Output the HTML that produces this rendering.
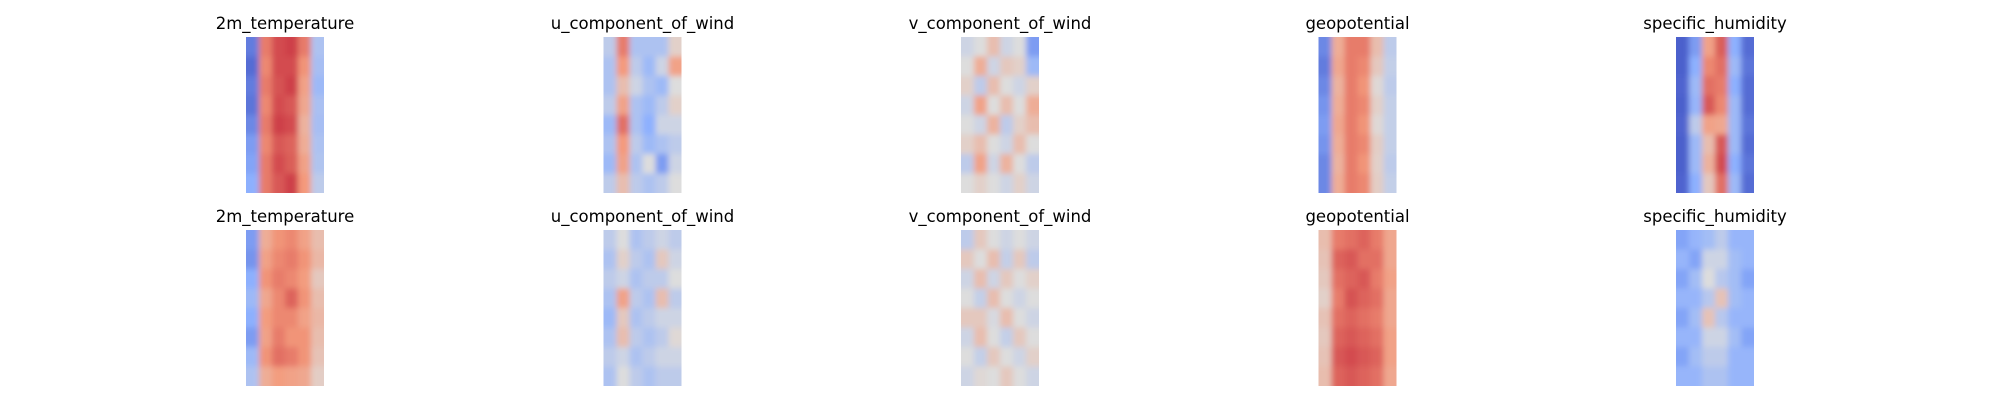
<!DOCTYPE html>
<html><head><meta charset="utf-8"><style>
body{margin:0;background:#fff;}
svg{display:block;}
text{font-family:"DejaVu Sans","Liberation Sans",sans-serif;font-size:16.5px;fill:#000;}
</style></head><body>
<svg id="chart" width="2000" height="400" viewBox="0 0 2000 400" xmlns="http://www.w3.org/2000/svg">
<defs><filter id="blur" x="-10%" y="-10%" width="120%" height="120%"><feGaussianBlur stdDeviation="3"/></filter></defs>
</svg>
<script>
const titles = ["2m_temperature","u_component_of_wind","v_component_of_wind","geopotential","specific_humidity"];
const gridTop = [
 [[0.12,0.8,0.88,0.9,0.8,0.35],[0.08,0.78,0.88,0.88,0.76,0.33],[0.12,0.8,0.87,0.9,0.72,0.3],[0.1,0.78,0.88,0.86,0.7,0.34],[0.15,0.8,0.9,0.88,0.66,0.33],[0.2,0.78,0.86,0.84,0.68,0.35],[0.22,0.8,0.88,0.85,0.72,0.36],[0.25,0.8,0.86,0.9,0.75,0.4]],
 [[0.4,0.8,0.35,0.35,0.35,0.55],[0.35,0.75,0.4,0.3,0.45,0.72],[0.35,0.62,0.45,0.35,0.3,0.5],[0.4,0.72,0.35,0.3,0.4,0.55],[0.3,0.82,0.35,0.25,0.45,0.45],[0.35,0.75,0.4,0.3,0.35,0.4],[0.3,0.72,0.35,0.5,0.2,0.45],[0.4,0.62,0.4,0.35,0.4,0.5]],
 [[0.45,0.5,0.62,0.45,0.5,0.2],[0.5,0.68,0.45,0.58,0.55,0.3],[0.55,0.4,0.62,0.5,0.45,0.55],[0.45,0.72,0.5,0.62,0.5,0.68],[0.5,0.45,0.66,0.4,0.55,0.62],[0.55,0.62,0.5,0.45,0.62,0.5],[0.4,0.72,0.45,0.66,0.5,0.4],[0.5,0.55,0.5,0.45,0.55,0.45]],
 [[0.15,0.68,0.8,0.8,0.62,0.4],[0.12,0.7,0.8,0.78,0.58,0.42],[0.15,0.66,0.8,0.76,0.52,0.4],[0.18,0.68,0.8,0.78,0.55,0.42],[0.2,0.7,0.8,0.76,0.52,0.42],[0.18,0.68,0.8,0.78,0.56,0.42],[0.15,0.66,0.8,0.76,0.55,0.4],[0.15,0.68,0.8,0.78,0.56,0.42]],
 [[0.05,0.2,0.72,0.85,0.25,0.08],[0.05,0.25,0.78,0.82,0.3,0.1],[0.06,0.3,0.82,0.8,0.25,0.08],[0.05,0.28,0.86,0.78,0.3,0.08],[0.06,0.4,0.72,0.7,0.3,0.1],[0.05,0.3,0.62,0.86,0.3,0.08],[0.05,0.3,0.66,0.88,0.25,0.1],[0.06,0.25,0.58,0.82,0.3,0.08]]
];
const gridBottom = [
 [[0.2,0.68,0.76,0.78,0.72,0.62],[0.18,0.72,0.78,0.8,0.76,0.64],[0.25,0.76,0.8,0.78,0.74,0.58],[0.3,0.7,0.78,0.84,0.76,0.62],[0.25,0.74,0.78,0.78,0.72,0.64],[0.2,0.72,0.8,0.76,0.76,0.62],[0.3,0.76,0.82,0.8,0.76,0.6],[0.35,0.68,0.74,0.72,0.7,0.56]],
 [[0.4,0.5,0.35,0.4,0.45,0.4],[0.35,0.55,0.4,0.35,0.58,0.45],[0.4,0.45,0.35,0.4,0.4,0.5],[0.35,0.72,0.4,0.35,0.62,0.4],[0.3,0.58,0.35,0.4,0.45,0.45],[0.35,0.62,0.4,0.35,0.4,0.52],[0.4,0.45,0.35,0.4,0.45,0.45],[0.35,0.5,0.4,0.35,0.4,0.4]],
 [[0.4,0.58,0.5,0.45,0.5,0.45],[0.58,0.5,0.62,0.42,0.58,0.4],[0.45,0.62,0.45,0.58,0.5,0.55],[0.5,0.42,0.62,0.5,0.45,0.5],[0.58,0.58,0.48,0.62,0.5,0.45],[0.45,0.62,0.5,0.42,0.58,0.5],[0.5,0.42,0.58,0.5,0.45,0.55],[0.45,0.52,0.5,0.58,0.5,0.45]],
 [[0.62,0.8,0.82,0.84,0.8,0.7],[0.6,0.84,0.86,0.82,0.82,0.7],[0.58,0.82,0.84,0.86,0.8,0.72],[0.55,0.8,0.87,0.84,0.82,0.7],[0.6,0.82,0.84,0.82,0.8,0.7],[0.58,0.84,0.86,0.84,0.82,0.72],[0.6,0.86,0.88,0.86,0.84,0.72],[0.62,0.84,0.86,0.84,0.82,0.7]],
 [[0.22,0.28,0.32,0.4,0.28,0.28],[0.28,0.22,0.45,0.45,0.32,0.28],[0.22,0.32,0.5,0.38,0.32,0.22],[0.28,0.28,0.38,0.6,0.32,0.28],[0.22,0.32,0.6,0.38,0.28,0.28],[0.28,0.28,0.45,0.45,0.32,0.22],[0.22,0.32,0.4,0.4,0.28,0.28],[0.28,0.28,0.35,0.35,0.28,0.28]]
];
const NS="http://www.w3.org/2000/svg";
const svg=document.getElementById('chart');
const stops=[[0,59,76,192],[0.25,141,176,254],[0.5,221,221,221],[0.75,244,154,123],[1,180,4,38]];
function cmap(v){v=Math.max(0,Math.min(1,v));for(let i=1;i<stops.length;i++){if(v<=stops[i][0]){const a=stops[i-1],b=stops[i],t=(v-a[0])/(b[0]-a[0]);return `rgb(${[1,2,3].map(k=>Math.round(a[k]+(b[k]-a[k])*t)).join(',')})`;}}}
const x0=246, dx=357.5, W=78, H=156, rowsY=[37,230], titleY=[29,222];
const defs=svg.querySelector('defs');
function panel(grid,pi,ri){
  const px=x0+pi*dx, py=rowsY[ri];
  const cid='clip'+ri+'_'+pi;
  const cp=document.createElementNS(NS,'clipPath');cp.setAttribute('id',cid);
  const cr=document.createElementNS(NS,'rect');cr.setAttribute('x',px);cr.setAttribute('y',py);cr.setAttribute('width',W);cr.setAttribute('height',H);
  cp.appendChild(cr);defs.appendChild(cp);
  const outer=document.createElementNS(NS,'g');outer.setAttribute('clip-path',`url(#${cid})`);
  
  
  const g=document.createElementNS(NS,'g');g.setAttribute('filter','url(#blur)');
  const nr=grid.length,nc=grid[0].length,cw=W/nc,ch=H/nr;
  grid.forEach((row,r)=>row.forEach((v,c)=>{
    const rect=document.createElementNS(NS,'rect');
    let x=px+c*cw,y=py+r*ch,w=cw+0.5,h=ch+0.5;
    if(c===0){x-=12;w+=12;} if(c===nc-1){w+=12;}
    if(r===0){y-=12;h+=12;} if(r===nr-1){h+=12;}
    rect.setAttribute('x',x);rect.setAttribute('y',y);rect.setAttribute('width',w);rect.setAttribute('height',h);
    rect.setAttribute('fill',cmap(v));
    
    
    g.appendChild(rect);
  }));
  outer.appendChild(g);svg.appendChild(outer);
  const t=document.createElementNS(NS,'text');
  t.setAttribute('x',px+W/2);t.setAttribute('y',titleY[ri]);t.setAttribute('text-anchor','middle');
  t.textContent=titles[pi];
  
  
  svg.appendChild(t);
}
gridTop.forEach((g,i)=>panel(g,i,0));
gridBottom.forEach((g,i)=>panel(g,i,1));
</script>
</body></html>
